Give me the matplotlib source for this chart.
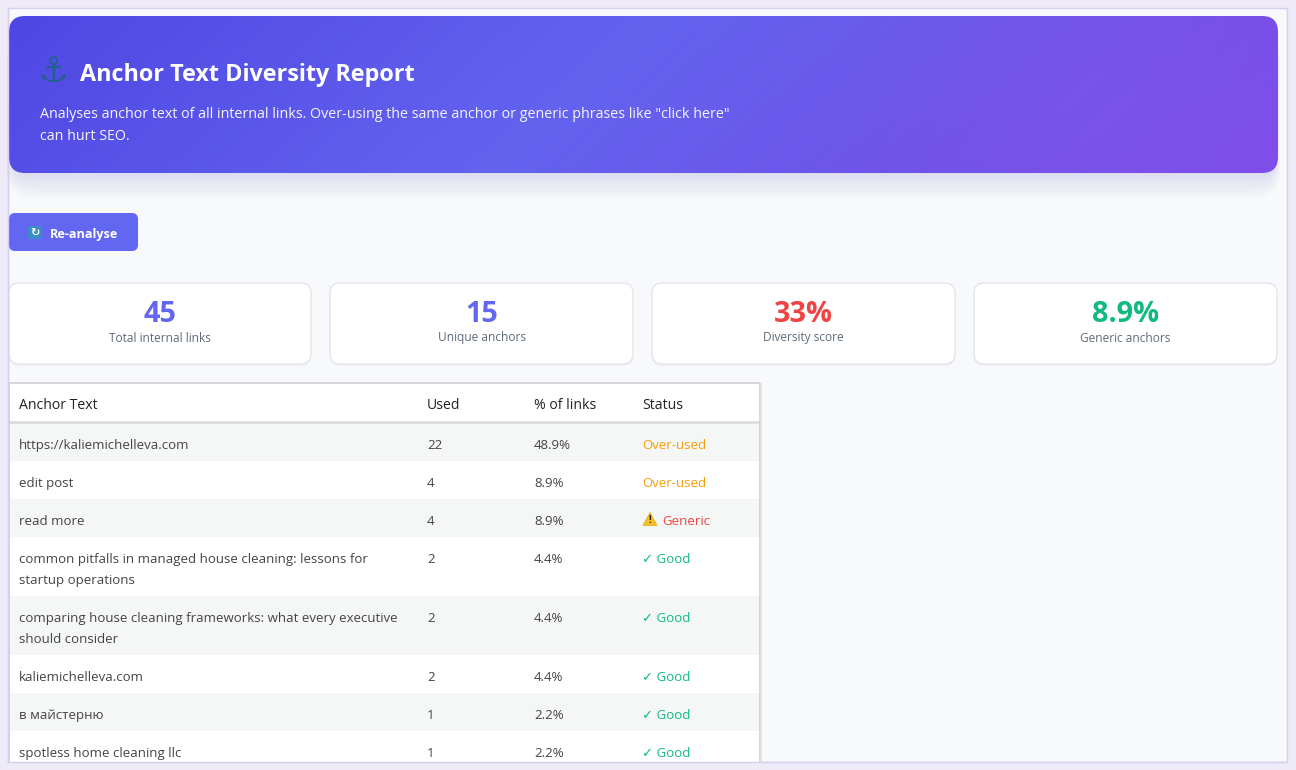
import numpy as np
import matplotlib
matplotlib.use("Agg")
import matplotlib.pyplot as plt
from matplotlib.patches import FancyBboxPatch, Rectangle, Polygon
from matplotlib.colors import to_rgb

# ---------------- data ----------------
title = "Anchor Text Diversity Report"
subtitle_lines = ['Analyses anchor text of all internal links. Over-using the same anchor or generic phrases like "click here"',
                  'can hurt SEO.']
button_label = "Re-analyse"

stat_values = ["45", "15", "33%", "8.9%"]
stat_labels = ["Total internal links", "Unique anchors", "Diversity score", "Generic anchors"]
stat_colors = ["#6366F1", "#6366F1", "#EF4444", "#10B981"]

table_headers = ["Anchor Text", "Used", "% of links", "Status"]
anchors = ["https://kaliemichelleva.com", "edit post", "read more",
           "common pitfalls in managed house cleaning: lessons for startup operations",
           "comparing house cleaning frameworks: what every executive should consider",
           "kaliemichelleva.com", "в майстерню", "spotless home cleaning llc"]
used = [22, 4, 4, 2, 2, 2, 1, 1]
pct_of_links = [48.9, 8.9, 8.9, 4.4, 4.4, 4.4, 2.2, 2.2]
status = ["Over-used", "Over-used", "Generic", "Good", "Good", "Good", "Good", "Good"]

# ---------------- style ----------------
W, H = 1296, 770
FONT = ["Open Sans", "DejaVu Sans"]
plt.rcParams["font.family"] = FONT

fig = plt.figure(figsize=(W / 100, H / 100), dpi=100)
ax = fig.add_axes([0, 0, 1, 1])
ax.set_xlim(0, W)
ax.set_ylim(H, 0)
ax.axis("off")
fig.patch.set_facecolor("#EEEAF8")
renderer = fig.canvas.get_renderer()


def fit(s, target, weight="normal"):
    t = ax.text(0, 0, s, fontsize=10, fontweight=weight)
    w = t.get_window_extent(renderer).width
    t.remove()
    return 10.0 * target / w


def text_w(s, size, weight="normal"):
    t = ax.text(0, 0, s, fontsize=size, fontweight=weight)
    w = t.get_window_extent(renderer).width
    t.remove()
    return w


def rbox(x0, y0, x1, y1, r, fc, ec="none", lw=0, z=1, alpha=1.0):
    p = FancyBboxPatch((x0 + r, y0 + r), (x1 - x0) - 2 * r, (y1 - y0) - 2 * r,
                       boxstyle=f"round,pad={r}", fc=fc, ec=ec, lw=lw, zorder=z, alpha=alpha)
    ax.add_patch(p)
    return p


# panel
ax.add_patch(Rectangle((8, 8), 1279, 754, fc="#F8F9FB", ec="#D6D0EE", lw=1, zorder=0))

# header shadow (mostly below the header)
for i in range(14):
    rbox(9 + 4 - i * 0.5, 16 + 12 + i * 0.6, 1278 - 4 + i * 0.5, 173 + 2 + i * 1.8, 16 + i,
         fc="#6366F1", z=0.5, alpha=0.010)

# header gradient
hx0, hy0, hx1, hy1 = 9, 16, 1278, 173
clip = rbox(hx0, hy0, hx1, hy1, 16, fc="none", z=1)
nx, ny = 400, 60
xs = np.linspace(0, 1, nx)
ys = np.linspace(0, 1, ny)
X, Y = np.meshgrid(xs, ys)
tt = np.clip(X * 0.88 + Y * 0.12, 0, 1)
stops = [0.0, 0.45, 0.75, 1.0]
cols = np.array([to_rgb("#4F47E3"), to_rgb("#6363F0"), to_rgb("#7052E9"), to_rgb("#7F4CEA")])
img = np.zeros((ny, nx, 3))
for c in range(3):
    img[..., c] = np.interp(tt, stops, cols[:, c])
px = hx0 + X * (hx1 - hx0)
py = hy0 + Y * (hy1 - hy0)
d = np.sqrt((px - 1090) ** 2 + ((py - 100) * 1.2) ** 2)
glow = np.exp(-(d / 170) ** 2) * 0.10
img = img + glow[..., None] * (np.array([0.62, 0.45, 0.95]) - img)
im = ax.imshow(img, extent=(hx0, hx1, hy1, hy0), aspect="auto", zorder=1, interpolation="bilinear")
im.set_clip_path(clip)

# title
ax.text(53.5, 72, "⚓", fontsize=25, color="#24608F", va="center", ha="center",
        family=["DejaVu Sans"], fontweight="bold", zorder=3)
ax.text(80, 75, title, fontsize=fit(title, 336, "bold"), fontweight="bold",
        color="white", va="center", ha="left", zorder=3)
sub_size = fit(subtitle_lines[0], 690)
for i, line in enumerate(subtitle_lines):
    ax.text(40, 114 + 23 * i, line, fontsize=sub_size, color="#F6F5FF",
            va="center", ha="left", zorder=3)

# button
rbox(9, 213, 138, 251, 6, fc="#6366F1", z=2)
rbox(28, 226, 41, 239, 2, fc="#3A8DC6", z=3)
ax.text(34.5, 232.5, "↻", fontsize=8, color="white", ha="center", va="center",
        family=["DejaVu Sans"], fontweight="bold", zorder=4)
ax.text(50, 234.5, button_label, fontsize=fit(button_label, 68, "bold"), fontweight="bold",
        color="white", va="center", ha="left", zorder=3)

# stat cards
card_x = [(9, 311), (330, 633), (652, 955), (974, 1277)]
num_size = fit("8.9%", 67, "bold")
lab_size = fit(stat_labels[0], 102)
for (x0, x1), v, lab, c in zip(card_x, stat_values, stat_labels, stat_colors):
    rbox(x0, 284, x1, 366, 10, fc="#E9EAF0", z=1.5, alpha=0.6)
    rbox(x0, 283, x1, 364, 10, fc="white", ec="#E3E5EC", lw=1, z=2)
    cx = (x0 + x1) / 2
    ax.text(cx, 315, v, fontsize=num_size, fontweight="bold", color=c,
            ha="center", va="center", zorder=3)
    ax.text(cx, 338, lab, fontsize=lab_size, color="#5F6B7A",
            ha="center", va="center", zorder=3)

# table
tx0, tx1 = 9, 760
col_x = [19, 427, 534, 642]
hdr_size = fit(table_headers[0], 78)
body_size = fit(anchors[3].rsplit(" ", 2)[0], 346)
stat_size = fit("Over-used", 64)
status_colors = {"Over-used": "#F59E0B", "Generic": "#EF4444", "Good": "#10B981"}
status_prefix = {"Over-used": "", "Generic": "", "Good": "✓ "}
DY = 2.5


def wrap(s, maxw):
    words = s.split(" ")
    lines, cur = [], ""
    for wd in words:
        cand = (cur + " " + wd).strip()
        if cur and text_w(cand, body_size) > maxw:
            lines.append(cur)
            cur = wd
        else:
            cur = cand
    lines.append(cur)
    return lines


ax.add_patch(Rectangle((tx0, 383), tx1 - tx0, 39, fc="white", ec="none", zorder=2))
for x, h in zip(col_x, table_headers):
    ax.text(x, 403 + DY, h, fontsize=hdr_size, color="#222222", ha="left", va="center", zorder=3)

y = 423
for i, (a, u, p, s) in enumerate(zip(anchors, used, pct_of_links, status)):
    lines = wrap(a, 388)
    rh = 17 + 21 * len(lines)
    fc = "#F5F6F6" if i % 2 == 0 else "white"
    ax.add_patch(Rectangle((tx0, y), tx1 - tx0, rh, fc=fc, ec="none", zorder=2))
    for j, ln in enumerate(lines):
        ax.text(col_x[0], y + 20 + DY + 21 * j, ln, fontsize=body_size, color="#444444",
                ha="left", va="center", zorder=3)
    ax.text(col_x[1], y + 20 + DY, f"{u}", fontsize=body_size, color="#444444",
            ha="left", va="center", zorder=3)
    ax.text(col_x[2], y + 20 + DY, f"{p:.1f}%", fontsize=body_size, color="#444444",
            ha="left", va="center", zorder=3)
    sx = col_x[3]
    if s == "Generic":
        ax.add_patch(Polygon([[643, y + 26.5], [657, y + 26.5], [650, y + 13.5]],
                             closed=True, fc="#F6C026", ec="#E0A800", lw=0.5, zorder=3))
        ax.text(650, y + 21.5, "!", fontsize=7, fontweight="bold", color="#222222",
                ha="center", va="center", zorder=4)
        sx = 662
    ax.text(sx, y + 20 + DY, status_prefix[s] + s, fontsize=stat_size, color=status_colors[s],
            ha="left", va="center", zorder=3)
    y += rh

# header separator and table border
ax.plot([tx0, tx1], [422, 422], color="#DDDDDD", lw=2, zorder=4, solid_capstyle="butt")
ax.plot([tx0, tx0, tx1, tx1], [800, 383, 383, 800], color="#CFCFD4", lw=1.2, zorder=4)
ax.plot([tx1 + 1.2, tx1 + 1.2], [384, 800], color="#E2E2E6", lw=1.2, zorder=4)

# clip bottom: lavender frame strip + panel border
ax.add_patch(Rectangle((0, 762), W, 10, fc="#EEEAF8", ec="none", zorder=10))
ax.plot([8, 1287], [762, 762], color="#D6D0EE", lw=1, zorder=11)
ax.plot([8, 8], [8, 762], color="#D6D0EE", lw=1, zorder=11)

fig.savefig("out.png", dpi=100, facecolor=fig.get_facecolor())
